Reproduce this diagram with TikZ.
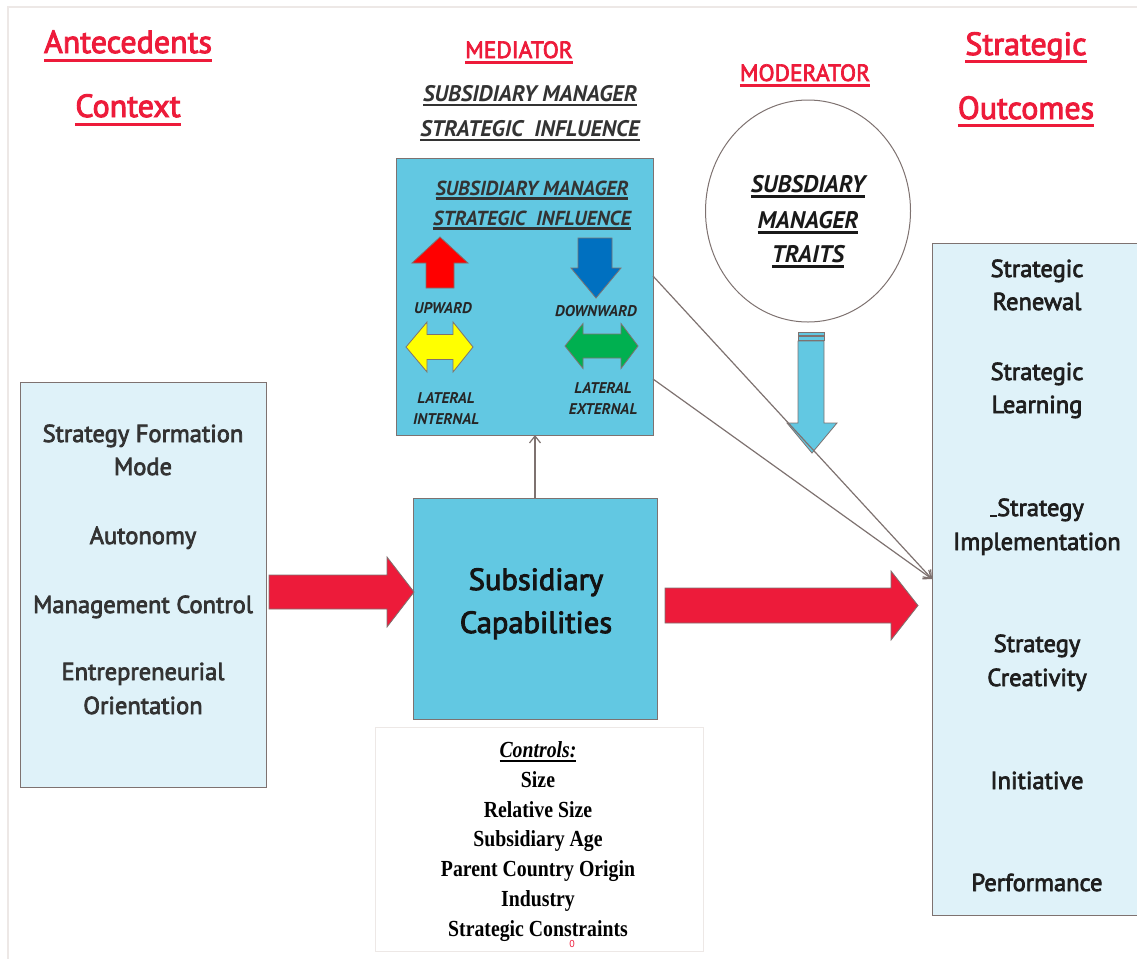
\documentclass[tikz,border=0pt]{standalone}
\usepackage{fontspec}
\setmainfont{PT Sans}
\newfontfamily\heavysans{PT Sans}[FakeBold=3]
\newfontfamily\ctrlfont{Liberation Serif}[FakeStretch=0.86]
\usetikzlibrary{arrows.meta,calc,shapes.geometric}

\definecolor{hdred}{RGB}{237,27,58}
\definecolor{medblue}{RGB}{98,200,226}
\definecolor{paleblue}{RGB}{223,242,249}
\definecolor{edgegray}{RGB}{126,114,112}
\definecolor{framegray}{RGB}{237,232,230}
\definecolor{darktxt}{RGB}{51,51,51}
\definecolor{upred}{RGB}{255,0,0}
\definecolor{downblue}{RGB}{0,112,192}
\definecolor{latyellow}{RGB}{255,255,0}
\definecolor{latgreen}{RGB}{0,176,80}

% underlined text: #1 lower edge of the rule, #2 its thickness
\newsavebox\ulbox
\newcommand{\ultext}[3]{\sbox\ulbox{#3}\rlap{\usebox\ulbox}\rule[-#1]{\wd\ulbox}{#2}}

\tikzset{
  bluebox/.style={draw=edgegray, fill=medblue, line width=1pt},
  palebox/.style={draw=edgegray, fill=paleblue, line width=1pt},
  redhead/.style={text=hdred, anchor=base, font=\fontsize{32}{38}\heavysans},
  redsub/.style={text=hdred, anchor=base, font=\fontsize{23.5}{28}\heavysans},
  medhead/.style={text=darktxt, anchor=base, font=\fontsize{22.5}{27}\bfseries\itshape},
  boxtxt/.style={text=darktxt, anchor=base, font=\fontsize{24.5}{30}\heavysans},
  flowtxt/.style={text=black!88, anchor=base, font=\fontsize{24.5}{30}\heavysans},
  dirtxt/.style={text=black!85, anchor=base, font=\fontsize{15.5}{19}\bfseries\itshape},
  ctrltxt/.style={text=black, anchor=base, font=\fontsize{23}{27}\ctrlfont\bfseries},
  blockarrow/.style={draw=edgegray, line width=0.8pt},
}

\begin{document}
\begin{tikzpicture}[x=1pt, y=-1pt, outer sep=0pt, inner sep=0pt,
  >={Straight Barb[length=7pt,width=11pt]}]

\useasboundingbox (0,0) rectangle (1137,959);
\draw[framegray, line width=2pt] (7.5,959) -- (7.5,7) -- (1138,7);

% headings
\node[redhead] at (128,53) (ANTECEDENTS) {\ultext{9pt}{3pt}{Antecedents}};
\node[redhead] at (128,117) (CONTEXT) {\ultext{9pt}{3pt}{Context}};
\node[redhead] at (1026,55) (STRATEGIC) {\ultext{8pt}{3pt}{Strategic}};
\node[redhead] at (1026,119) (OUTCOMES) {\ultext{8pt}{3pt}{Outcomes}};
\node[redsub] at (519,58) (MEDIATOR) {\ultext{6pt}{3pt}{MEDIATOR}};
\node[redsub] at (805,81) (MODERATOR) {\ultext{6pt}{3pt}{MODERATOR}};
\node[medhead] at (530,101) (MED_HEAD_A) {\ultext{5pt}{2.5pt}{SUBSIDIARY MANAGER}};
\node[medhead] at (530,136) (MED_HEAD_B) {\ultext{5pt}{2.5pt}{STRATEGIC\ \ INFLUENCE}};

% boxes
\node[palebox, minimum width=246, minimum height=405] at (143,584.5) (CONTEXT_BOX) {};
\node[palebox, minimum width=206, minimum height=672] at (1035,579) (OUTCOME_BOX) {};
\node[bluebox, minimum width=257, minimum height=277] at (524.5,296.5) (MEDIATOR_BOX) {};
\node[bluebox, minimum width=244, minimum height=221] at (535,608.5) (SUBCAP_BOX) {};
\node[draw=framegray, fill=white, minimum width=328, minimum height=224] at (539,839) (CONTROLS_BOX) {};
\node[draw=edgegray, ellipse, line width=1pt, minimum width=205, minimum height=222] at (808,211) (TRAITS_CIRCLE) {};

% antecedents
\node[boxtxt] at (143,442) (FORMATION) {Strategy Formation};
\node[boxtxt] at (143,475) (MODE) {Mode};
\node[boxtxt] at (143,544) (AUTONOMY) {Autonomy};
\node[boxtxt] at (143,613) (MGMT_CONTROL) {Management Control};
\node[boxtxt] at (143,680) (ENTRE) {Entrepreneurial};
\node[boxtxt] at (143,714) (ORIENT) {Orientation};

% outcomes
\node[flowtxt] at (1037,277) (RENEWAL_A) {Strategic};
\node[flowtxt] at (1037,310) (RENEWAL_B) {Renewal};
\node[flowtxt] at (1037,380) (LEARNING_A) {Strategic};
\node[flowtxt] at (1037,413) (LEARNING_B) {Learning};
\node[flowtxt] at (1037,516) (IMPL_A) {\rule[-1pt]{7pt}{2.5pt}Strategy};
\node[flowtxt] at (1037,550) (IMPL_B) {Implementation};
\node[flowtxt] at (1037,652) (CREAT_A) {Strategy};
\node[flowtxt] at (1037,686) (CREAT_B) {Creativity};
\node[flowtxt] at (1037,789) (INITIATIVE) {Initiative};
\node[flowtxt] at (1037,891) (PERFORMANCE) {Performance};

% subsidiary capabilities
\node[text=black!92, anchor=base, font=\fontsize{30.5}{36}\heavysans] at (536,590) (SUBCAP_A) {Subsidiary};
\node[text=black!92, anchor=base, font=\fontsize{30.5}{36}\heavysans] at (536,633) (SUBCAP_B) {Capabilities};

% mediator inside
\node[medhead, font=\fontsize{20.3}{24}\bfseries\itshape] at (532,195) (INFL_A) {\ultext{4.5pt}{2.5pt}{SUBSIDIARY MANAGER}};
\node[medhead, font=\fontsize{20.3}{24}\bfseries\itshape] at (532,225) (INFL_B) {\ultext{4.5pt}{2.5pt}{STRATEGIC\ \ INFLUENCE}};
\draw[blockarrow, fill=upred] (426,288) -- (426,263) -- (412,263) -- (440,237) -- (468,263) -- (454,263) -- (454,288) -- cycle;
\draw[blockarrow, fill=downblue] (578,238) -- (612,238) -- (612,268) -- (621,268) -- (596,298) -- (571,268) -- (578,268) -- cycle;
\draw[blockarrow, fill=latyellow] (406,347) -- (427,322) -- (427,334.5) -- (453,334.5) -- (453,322) -- (473,347)
  -- (453,372) -- (453,359.5) -- (427,359.5) -- (427,372) -- cycle;
\draw[blockarrow, fill=latgreen] (565,346) -- (583,323.5) -- (583,334) -- (621,334) -- (621,323.5) -- (638,346)
  -- (621,368.5) -- (621,358) -- (583,358) -- (583,368.5) -- cycle;
\node[dirtxt] at (443,313) (UPWARD) {UPWARD};
\node[dirtxt] at (596,316) (DOWNWARD) {DOWNWARD};
\node[dirtxt] at (446,403) (LAT_INT_A) {LATERAL};
\node[dirtxt] at (446,424) (LAT_INT_B) {INTERNAL};
\node[dirtxt] at (603,393) (LAT_EXT_A) {LATERAL};
\node[dirtxt] at (603,414) (LAT_EXT_B) {EXTERNAL};

% moderator
\node[medhead, text=black!90, font=\fontsize{24}{29}\bfseries\itshape] at (808,192) (TRAITS_A) {\ultext{6pt}{3pt}{SUBSDIARY}};
\node[medhead, text=black!90, font=\fontsize{24}{29}\bfseries\itshape] at (808,228) (TRAITS_B) {\ultext{6pt}{3pt}{MANAGER}};
\node[medhead, text=black!90, font=\fontsize{24}{29}\bfseries\itshape] at (808,262) (TRAITS_C) {\ultext{6pt}{3pt}{TRAITS}};
\draw[blockarrow, fill=medblue, line width=0.6pt] (798,332) rectangle (824,335);
\draw[blockarrow, fill=medblue, line width=0.6pt] (798,336.5) rectangle (824,340);
\draw[blockarrow, fill=medblue] (798,341) -- (824,341) -- (824,423) -- (837,423) -- (812,453) -- (787,423) -- (798,423) -- cycle;

% red flow arrows
\draw[blockarrow, fill=hdred] (269,575) -- (387,575) -- (387,557) -- (414,592) -- (387,627) -- (387,609) -- (269,609) -- cycle;
\draw[blockarrow, fill=hdred] (665,588) -- (891,588) -- (891,571) -- (918,605.5) -- (891,640) -- (891,623) -- (665,623) -- cycle;

% controls
\node[ctrltxt, font=\fontsize{23}{27}\ctrlfont\itshape\bfseries] at (538,757) (CONTROLS) {\ultext{4.5pt}{2pt}{Controls:}};
\node[ctrltxt] at (538,787) (C_SIZE) {Size};
\node[ctrltxt] at (538,817) (C_RELSIZE) {Relative Size};
\node[ctrltxt] at (538,846) (C_AGE) {Subsidiary Age};
\node[ctrltxt] at (538,876) (C_ORIGIN) {Parent Country Origin};
\node[ctrltxt] at (538,906) (C_INDUSTRY) {Industry};
\node[ctrltxt] at (538,936) (C_CONSTR) {Strategic Constraints};
\node[text=hdred, anchor=base, font=\fontsize{10}{12}\selectfont] at (572,947) (ZERO) {0};

% connectors
\coordinate (MED_OUT_A) at ($(MEDIATOR_BOX.north east)+(0,118)$);
\coordinate (MED_OUT_B) at ($(MEDIATOR_BOX.north east)+(0,221)$);
\draw[->, edgegray, line width=1.2pt] (SUBCAP_BOX.north) -- (SUBCAP_BOX.north |- MEDIATOR_BOX.south);
\draw[->, edgegray, line width=1.2pt] (MED_OUT_A) -- (OUTCOME_BOX.west);
\draw[->, edgegray, line width=1.2pt] (MED_OUT_B) -- (OUTCOME_BOX.west);
\end{tikzpicture}
\end{document}
